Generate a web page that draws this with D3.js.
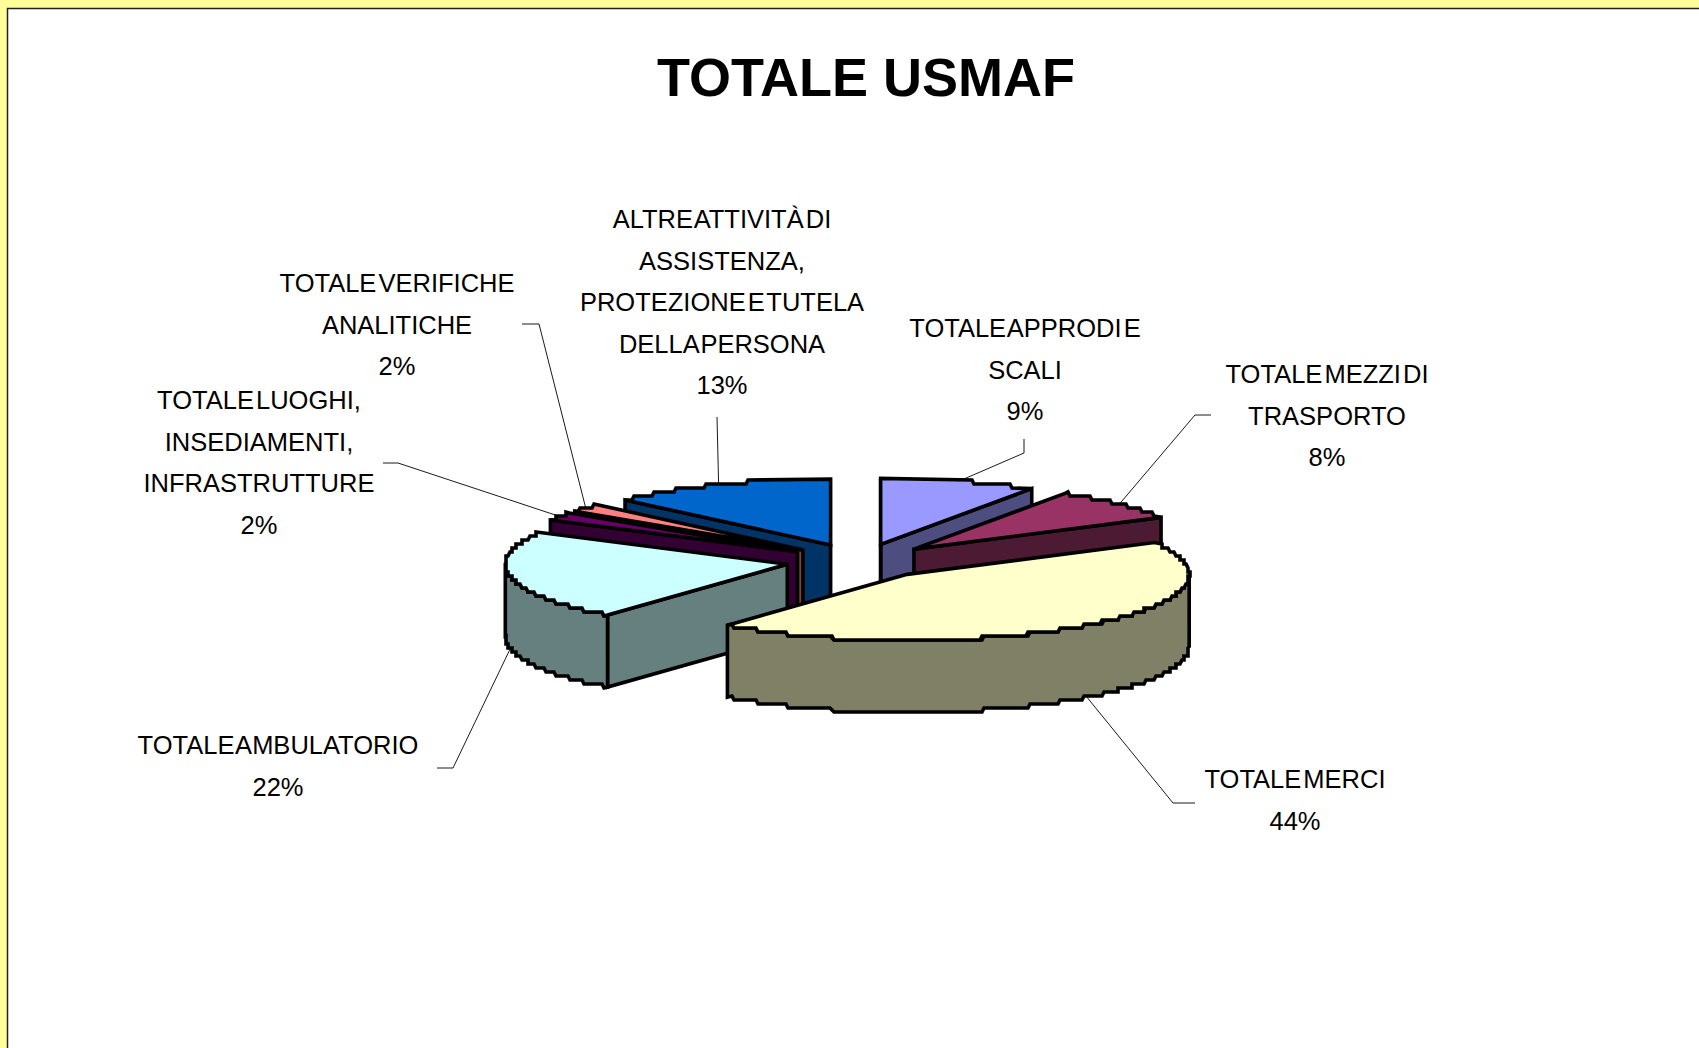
<!DOCTYPE html>
<html><head><meta charset="utf-8">
<script src="https://cdnjs.cloudflare.com/ajax/libs/d3/7.8.5/d3.min.js"></script>
<style>html,body{margin:0;padding:0;background:#FFFF99;overflow:hidden}svg{display:block}</style>
</head><body><svg id="c" width="1699" height="1048"></svg>
<script>
const title = "TOTALE USMAF";
const categories = [
  ["TOTALE APPRODI E","SCALI"],
  ["TOTALE MEZZI DI","TRASPORTO"],
  ["TOTALE MERCI"],
  ["TOTALE AMBULATORIO"],
  ["TOTALE LUOGHI,","INSEDIAMENTI,","INFRASTRUTTURE"],
  ["TOTALE VERIFICHE","ANALITICHE"],
  ["ALTRE ATTIVITÀ DI","ASSISTENZA,","PROTEZIONE E TUTELA","DELLA PERSONA"]
];
const values = [9, 8, 44, 22, 2, 2, 13];
const topColors = ["#9999FF","#993366","#FFFFCC","#CCFFFF","#660066","#FF8080","#0066CC"];
const sideColors = ["#4D4D80","#4D1A33","#808066","#668080","#330033","#804040","#003366"];
const labelCentres = [[1025,328],[1327,374],[1295,779],[278,745],[259,400],[397,283],[722,219]];
const leaderElbows = [
  [[1024,439],[1024,453]],
  [[1211,415],[1195,415]],
  [[1195,803],[1173,803]],
  [[437,768],[453,768]],
  [[383,463],[398,463]],
  [[522,324],[539,324]],
  [[717,417]]
];
const paintOrder = [6,5,4,3,0,1,2];

const W=1699,H=1048, cx=860, cy=561, rx=282, ry=66, depth=72, explode=74, lineH=41.5;
const tilt = ry/rx;
const svg = d3.select("#c");
svg.append("rect").attr("x",7.5).attr("y",8.5).attr("width",W+20).attr("height",H+20)
   .attr("fill","#fff").attr("stroke","#222").attr("stroke-width",1.5);
svg.append("text").attr("x",866).attr("y",96).attr("text-anchor","middle")
   .attr("font-family","Liberation Sans, Arial, sans-serif").attr("font-weight",700)
   .attr("font-size",54).attr("fill","#000").text(title);

const arcs = d3.pie().sort(null).value(d=>d)(values);
const TAU = Math.PI*2;
arcs.forEach(a=>{
  const m=(a.startAngle+a.endAngle)/2;
  a.ox = cx+explode*Math.sin(m);
  a.oy = cy-explode*tilt*Math.cos(m);
  a.mid=m;
});
const rim=(a,t)=>[a.ox+rx*Math.sin(t), a.oy-ry*Math.cos(t)];
// rim drawn as a coarse polyline, like the low resolution metafile of the source
const gy=4, gx=2;
function rimPts(a,t0,t1){
  const n=Math.max(2,Math.ceil(Math.abs(t1-t0)/(TAU/720)));
  const ts=d3.range(n+1).map(i=>t0+(t1-t0)*i/n);
  const q=ts.map(t=>{const p=rim(a,t);return [Math.round(p[0]/gx)*gx,Math.round(p[1]/gy)*gy];});
  const out=[rim(a,t0)];
  for(let i=1;i<q.length-1;i++){
    if(q[i][1]!==q[i-1][1]||q[i][1]!==q[i+1][1]) out.push(q[i]);
  }
  out.push(rim(a,t1));
  return out;
}
const line=d3.line().curve(d3.curveLinear);
const down=p=>[p[0],p[1]+depth];
const g=svg.append("g").attr("stroke","#000").attr("stroke-width",3.6).attr("stroke-linejoin","miter").attr("stroke-miterlimit",3);
paintOrder.forEach(i=>{
  const a=arcs[i], o=[a.ox,a.oy];
  const wall=(pts)=>g.append("path").attr("d",line(pts)+"Z").attr("fill",sideColors[i]);
  // radial walls facing the viewer
  if(Math.sin(a.startAngle)<-1e-6||Math.abs(a.startAngle)<1e-6&&false){
    const p=rim(a,a.startAngle); wall([o,p,down(p),down(o)]);
  }
  if(Math.sin(a.endAngle)>1e-6){
    const p=rim(a,a.endAngle); wall([o,p,down(p),down(o)]);
  }
  if(i===0){ wall([o,[o[0],o[1]-ry],down([o[0],o[1]-ry]),down(o)]); }
  // outer wall on the front half
  const lo=Math.max(a.startAngle,Math.PI/2), hi=Math.min(a.endAngle,Math.PI*1.5);
  if(lo<hi){
    const pts=rimPts(a,lo,hi);
    wall(pts.concat(pts.slice().reverse().map(down)));
  }
  g.append("path").attr("d",line([o].concat(rimPts(a,a.startAngle,a.endAngle)))+"Z").attr("fill",topColors[i]);
});

// leader lines
const lg=svg.append("g").attr("fill","none").attr("stroke","#000").attr("stroke-width",0.9);
arcs.forEach((a,i)=>{
  let p=rim(a,a.mid);
  if(Math.cos(a.mid)<0) p=down(p);
  lg.append("path").attr("d",line(leaderElbows[i].concat([p])));
});

// labels
const pct=d3.format(".0%"), total=d3.sum(values);
const tg=svg.append("g").attr("font-family","Liberation Sans, Arial, sans-serif").attr("font-size",25.5)
   .attr("fill","#000").attr("text-anchor","middle").attr("word-spacing",-5);
categories.forEach((c,i)=>{
  const lines=c.concat([pct(values[i]/total)]);
  lines.forEach((s,k)=>{
    tg.append("text").attr("x",labelCentres[i][0]).attr("y",labelCentres[i][1]+k*lineH).attr("dy","0.36em").text(s);
  });
});
</script></body></html>
